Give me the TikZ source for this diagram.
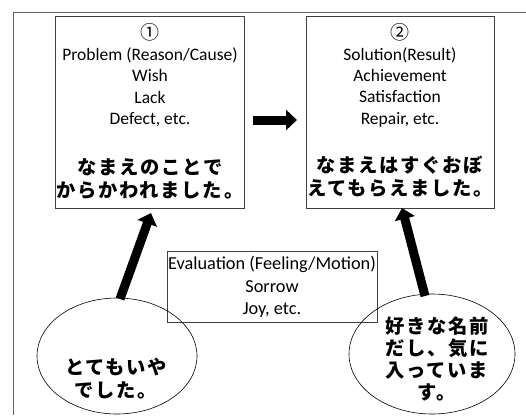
\documentclass[tikz,border=0pt]{standalone}
\usepackage{fontspec}
\setmainfont{Carlito}
\newfontfamily\jp{Noto Sans CJK JP}
\newfontfamily\jpsp{Noto Sans CJK JP}[LetterSpace=9]
\usetikzlibrary{arrows.meta,shapes.geometric}
\begin{document}
\begin{tikzpicture}[x=1pt,y=-1pt,
  frame/.style={draw=black!60, line width=1pt},
  box/.style={draw=black!75, line width=0.8pt, fill=white},
  en/.style={align=center, font=\fontsize{17.5}{21.2}\selectfont, inner sep=0pt},
  ja/.style={align=center, font=\jpsp\bfseries\fontsize{19.3}{23}\selectfont, inner sep=0pt},
  oval/.style={draw=black, line width=0.6pt, ellipse, inner sep=0pt},
  bigarrow/.style={line width=9pt, -{Triangle[width=20pt,length=11pt]}}
]
\useasboundingbox (0,0) rectangle (526,415);
\draw[frame] (526,12) -- (13,12) -- (13,415);

% boxes
\draw[box] (55,16) rectangle (244,208);
\draw[box] (306,16) rectangle (494,208);
\draw[box] (167,251) rectangle (377,322);

\node[en] (t1) at (150,75) {{\jp\fontsize{19}{21.2}\selectfont ①}\\Problem (Reason/Cause)\\Wish\\Lack\\Defect, etc.};
\node[ja] (j1) at (150,179) {なまえのことで\\からかわれました。};

\node[en] (t2) at (400,75) {{\jp\fontsize{19}{21.2}\selectfont ②}\\Solution(Result)\\Achievement\\Satisfaction\\Repair, etc.};
\node[ja] (j2) at (400,177) {なまえはすぐおぼ\\えてもらえました。};

\node[en, font=\fontsize{18.3}{22.5}\selectfont] (t3) at (272,287) {Evaluation (Feeling/Motion)\\Sorrow\\Joy, etc.};

% ellipses
\node[oval, minimum width=160pt, minimum height=116pt] (le) at (117,356) {};
\node[oval, minimum width=166pt, minimum height=120pt] (re) at (432,354) {};
\node[ja] (lt) at (116,379) {とてもいや\\でした。};
\node[ja, font=\jpsp\bfseries\fontsize{19.3}{22.3}\selectfont] (rt) at (437,359) {好きな名前\\だし、気に\\入っていま\\す。};

% arrows
\coordinate (m1) at (253,120);
\coordinate (m2) at (297,120);
\draw[bigarrow] (m1) -- (m2);
\coordinate (la1) at (120,299);
\coordinate (la2) at (151,213);
\draw[bigarrow] (la1) -- (la2);
\coordinate (ra1) at (425,296);
\coordinate (ra2) at (402,208);
\draw[bigarrow] (ra1) -- (ra2);
\end{tikzpicture}
\end{document}
